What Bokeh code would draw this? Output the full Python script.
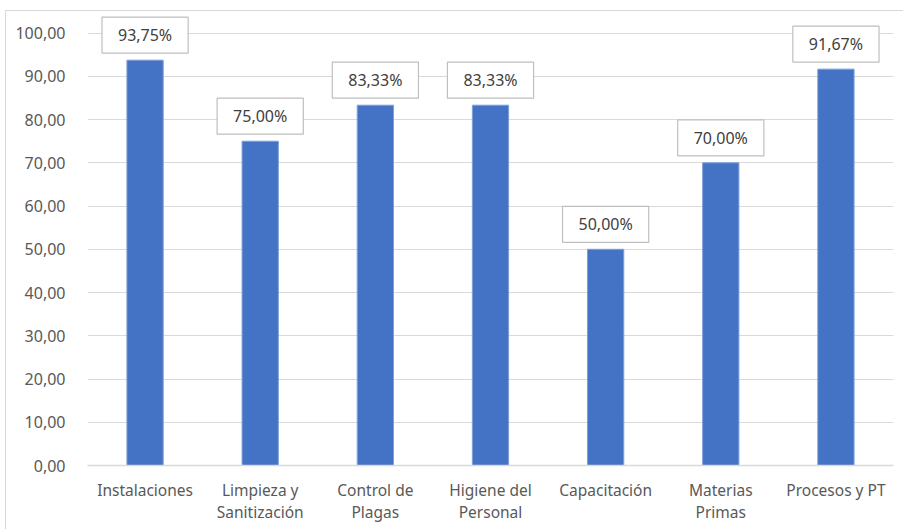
from bokeh.plotting import figure
from bokeh.models import ColumnDataSource, FactorRange, FixedTicker, CustomJSTickFormatter
from bokeh.core.properties import value
from bokeh.embed import file_html
from bokeh.resources import INLINE

categories = ["Instalaciones", "Limpieza y\nSanitización", "Control de\nPlagas",
              "Higiene del\nPersonal", "Capacitación", "Materias\nPrimas", "Procesos y PT"]
values = [93.75, 75.00, 83.33, 83.33, 50.00, 70.00, 91.67]
y_ticks = [0, 10, 20, 30, 40, 50, 60, 70, 80, 90, 100]

labels = [f"{v:.2f}".replace(".", ",") + "%" for v in values]
src = ColumnDataSource(dict(cat=categories, val=values, lbl=labels))

FONT = "Noto Sans"

p = figure(x_range=FactorRange(*categories, range_padding=0), y_range=(0, 105),
           width=898, height=519, output_backend="svg", toolbar_location=None,
           min_border_left=81, min_border_right=11, min_border_top=0, min_border_bottom=65,
           styles={"margin-left": "5px", "margin-top": "10px",
                   "border-top": "1px solid #d9d9d9", "border-left": "1px solid #d9d9d9"})
p.outline_line_color = None
p.background_fill_color = "white"
p.border_fill_color = "white"

p.vbar(x="cat", top="val", width=0.315, source=src, fill_color="#4472C4",
       line_color="#7f9fd8", line_width=1)

p.text(x="cat", y="val", text="lbl", source=src, text_align="center", text_baseline="bottom",
       y_offset=-7, text_font=value(FONT), text_font_size="16px", text_color="#404040",
       padding=(16, 7), border_line_color="#bfbfbf", border_line_width=1.2,
       background_fill_color="white")

p.yaxis.ticker = FixedTicker(ticks=y_ticks)
p.yaxis.formatter = CustomJSTickFormatter(code="return tick.toFixed(2).replace('.', ',');")
p.yaxis.axis_line_color = None
p.yaxis.major_tick_line_color = None
p.yaxis.minor_tick_line_color = None
p.yaxis.major_label_standoff = 16
p.yaxis.major_label_text_font = FONT
p.yaxis.major_label_text_font_size = "16px"
p.yaxis.major_label_text_color = "#595959"

p.xaxis.axis_line_color = "#d9d9d9"
p.xaxis.axis_line_width = 1.5
p.xaxis.major_tick_line_color = None
p.xaxis.minor_tick_line_color = None
p.xaxis.major_label_standoff = 7
p.xaxis.major_label_text_font = FONT
p.xaxis.major_label_text_font_size = "15.5px"
p.xaxis.major_label_text_color = "#595959"
p.xaxis.major_label_text_line_height = 1.0

p.xgrid.grid_line_color = None
p.ygrid.ticker = FixedTicker(ticks=y_ticks)
p.ygrid.grid_line_color = "#d9d9d9"
p.ygrid.grid_line_width = 1

open("out.html", "w").write(file_html(p, INLINE))
